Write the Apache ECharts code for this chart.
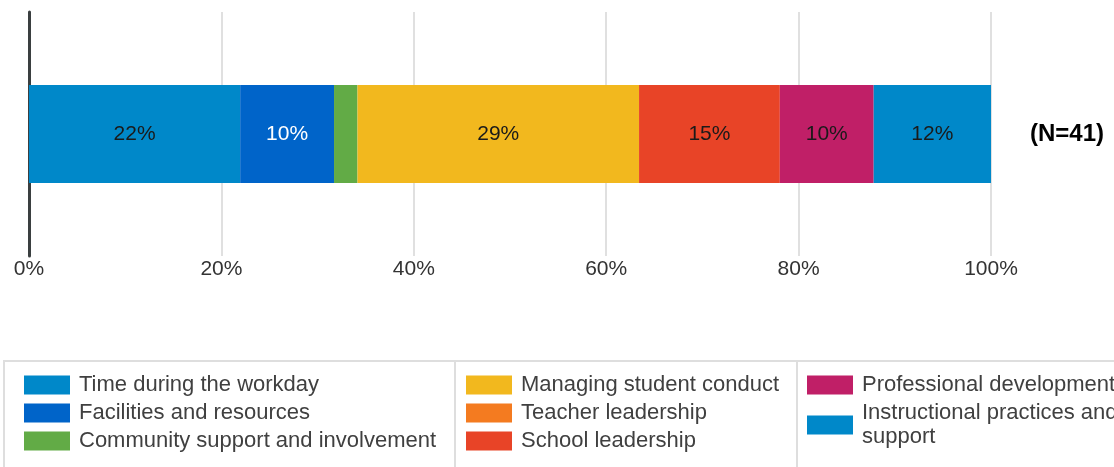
<!DOCTYPE html>
<html>
<head>
<meta charset="utf-8">
<script src="https://cdn.jsdelivr.net/npm/echarts@6/dist/echarts.min.js"></script>
<style>
  html, body { margin: 0; padding: 0; background: #fff; }
  #chart { width: 1114px; height: 467px; }
</style>
</head>
<body>
<div id="chart"></div>
<script>
// 回答人数
const totalN = 41
// 各类别（顺序即堆叠顺序）
const categories = [
  'Time during the workday',
  'Facilities and resources',
  'Community support and involvement',
  'Managing student conduct',
  'Teacher leadership',
  'School leadership',
  'Professional development',
  'Instructional practices and support'
]
// 每类的回答数（22%, 10%, 2%, 29%, 0%, 15%, 10%, 12%）
const counts = [9, 4, 1, 12, 0, 6, 4, 5]
const colors = ['#0088c9', '#0064c9', '#62ab46', '#f2b81e', '#f47b20', '#e84427', '#c01f67', '#0088c9']
const labelColors = ['#1a1a1a', '#ffffff', '#1a1a1a', '#1a1a1a', '#1a1a1a', '#1a1a1a', '#1a1a1a', '#1a1a1a']
const xTicks = [0, 20, 40, 60, 80, 100]

const fontFamily = '"Liberation Sans", Arial, sans-serif'

const chart = echarts.init(document.getElementById('chart'))

const series = categories.map((name, i) => ({
  name: name,
  type: 'bar',
  stack: 'total',
  barWidth: 98,
  yAxisIndex: 0,
  itemStyle: { color: colors[i] },
  label: {
    show: counts[i] / totalN * 100 >= 5,
    position: 'inside',
    color: labelColors[i],
    fontSize: 21,
    fontFamily: fontFamily,
    formatter: (p) => Math.round(p.value) + '%'
  },
  emphasis: { disabled: true },
  data: [counts[i] / totalN * 100]
}))

// 图例分三列
const legendBase = {
  orient: 'vertical',
  top: 374,
  height: 150,
  padding: 0,
  itemWidth: 46,
  itemHeight: 19,
  itemGap: 6,
  icon: 'rect',
  selectedMode: false,
  textStyle: {
    fontSize: 22,
    lineHeight: 22,
    color: '#404040',
    fontFamily: fontFamily,
    padding: [0, 0, 0, 4]
  }
}

chart.setOption({
  animation: false,
  textStyle: { fontFamily: fontFamily },
  grid: {
    left: 29,
    right: 123,
    top: 12,
    bottom: 211,
    containLabel: false
  },
  xAxis: {
    type: 'value',
    min: xTicks[0],
    max: xTicks[xTicks.length - 1],
    interval: 20,
    axisLine: { show: false },
    axisTick: { show: false },
    splitLine: { lineStyle: { color: '#d6d6d6', width: 1.5 } },
    axisLabel: {
      margin: 3,
      fontSize: 21,
      color: '#333',
      formatter: '{value}%'
    }
  },
  yAxis: [
    {
      type: 'category',
      data: [''],
      axisLine: { show: true, lineStyle: { color: '#3a3f40', width: 3 } },
      axisTick: { show: false },
      axisLabel: { show: false }
    },
    {
      type: 'category',
      position: 'right',
      data: ['(N=' + totalN + ')'],
      axisLine: { show: false },
      axisTick: { show: false },
      axisLabel: {
        margin: 39,
        fontSize: 24,
        fontWeight: 'bold',
        color: '#000'
      }
    }
  ],
  legend: [
    Object.assign({}, legendBase, { left: 24, data: categories.slice(0, 3) }),
    Object.assign({}, legendBase, { left: 466, data: categories.slice(3, 6) }),
    Object.assign({}, legendBase, {
      left: 807,
      top: 373,
      itemGap: 4,
      data: categories.slice(6),
      textStyle: Object.assign({}, legendBase.textStyle, { lineHeight: 24 }),
      formatter: (name) => name.replace('and support', 'and\nsupport')
    })
  ],
  // 图例外框与分隔线
  graphic: [
    {
      type: 'rect',
      shape: { x: 4, y: 361, width: 1200, height: 200 },
      style: { fill: 'none', stroke: '#dedede', lineWidth: 2 },
      silent: true
    },
    {
      type: 'line',
      shape: { x1: 455, y1: 361, x2: 455, y2: 467 },
      style: { stroke: '#dedede', lineWidth: 2 },
      silent: true
    },
    {
      type: 'line',
      shape: { x1: 797, y1: 361, x2: 797, y2: 467 },
      style: { stroke: '#dedede', lineWidth: 2 },
      silent: true
    }
  ],
  series: series
})
</script>
</body>
</html>
